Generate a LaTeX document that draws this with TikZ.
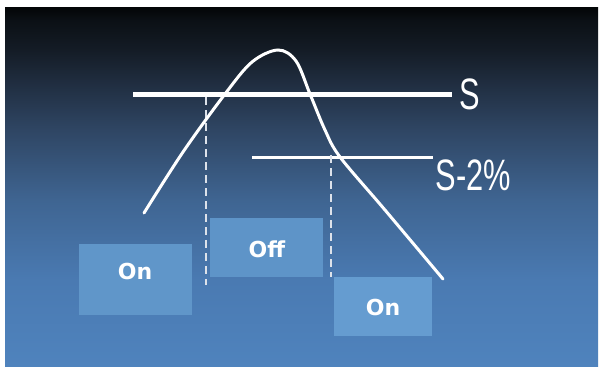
\documentclass[tikz,border=0pt]{standalone}
\usepackage{fontspec}
\setmainfont{Liberation Sans}
\newfontfamily\boxfont{DejaVu Sans}
\definecolor{bgA}{HTML}{4F83BD}
\definecolor{bgB}{HTML}{4A7AB2}
\definecolor{bgC}{HTML}{3F6592}
\definecolor{bgD}{HTML}{2F4664}
\definecolor{bgE}{HTML}{1F2C3E}
\definecolor{bgF}{HTML}{141C26}
\definecolor{bgG}{HTML}{0B1015}
\definecolor{bgH}{HTML}{030506}
\definecolor{boxA}{HTML}{6096C9}
\definecolor{boxB}{HTML}{5E94C8}
\definecolor{boxC}{HTML}{659CD0}
\definecolor{dashcol}{HTML}{DDE2EA}
\pgfdeclareverticalshading{bgshade}{100bp}{%
  color(0bp)=(bgA); color(25bp)=(bgA); color(36.9bp)=(bgB); color(48bp)=(bgC);
  color(57.8bp)=(bgD); color(64.8bp)=(bgE); color(69bp)=(bgF); color(73.2bp)=(bgG);
  color(75bp)=(bgH); color(100bp)=(bgH)}
\begin{document}
\begin{tikzpicture}[x=1pt,y=-1pt,
  statebox/.style={draw=none,inner sep=0pt,outer sep=0pt},
  statetext/.style={inner sep=0pt,text=white,font=\boxfont\bfseries\fontsize{22}{22}\selectfont},
  level/.style={white,line cap=butt},
  guide/.style={dashcol,line width=2pt,dash pattern=on 8pt off 5pt},
  lvltext/.style={inner sep=0pt,anchor=base west,text=white,font=\fontsize{44}{44}\selectfont}]
\useasboundingbox (0,0) rectangle (599,367);
\fill[white] (0,0) rectangle (599,367);
\shade[shading=bgshade] (5,7) rectangle (598,366);
% level lines
\coordinate (sL) at (133,94.5);
\coordinate (sR) at (452,94.5);
\coordinate (tL) at (252,157);
\coordinate (tR) at (433,157);
\draw[level,line width=5pt] (sL) -- (sR);
\draw[level,line width=3pt] (tL) -- (tR);
\node[lvltext] (slab) at (459.5,109) {\scalebox{0.7}[1]{S}};
\node[lvltext] (tlab) at (435.5,190) {\scalebox{0.7}[1]{S-2\%}};
% dashed guides
\coordinate (d1t) at (206,97);
\coordinate (d1b) at (206,285);
\coordinate (d2t) at (331,155);
\coordinate (d2b) at (331,277);
\draw[guide] (d1t) -- (d1b);
\draw[guide] (d2t) -- (d2b);
% curve
\draw[white,line width=3pt,line cap=round] plot[smooth,tension=0.55] coordinates
  {(144,213) (183,152) (225,94) (252,62) (278,50) (296,61) (310,94) (325,130) (340,157) (385,210) (443,279)};
% boxes
\node[statebox,fill=boxA,minimum width=113pt,minimum height=71pt] (on1) at (135.5,279.5) {};
\node[statebox,fill=boxB,minimum width=113pt,minimum height=59pt] (off) at (266.5,247.5) {};
\node[statebox,fill=boxC,minimum width=98pt,minimum height=59pt] (on2) at (383,306.5) {};
\node[statetext] (on1t) at (135,271) {On};
\node[statetext] (offt) at (267,249) {Off};
\node[statetext] (on2t) at (383,307) {On};
\end{tikzpicture}
\end{document}
